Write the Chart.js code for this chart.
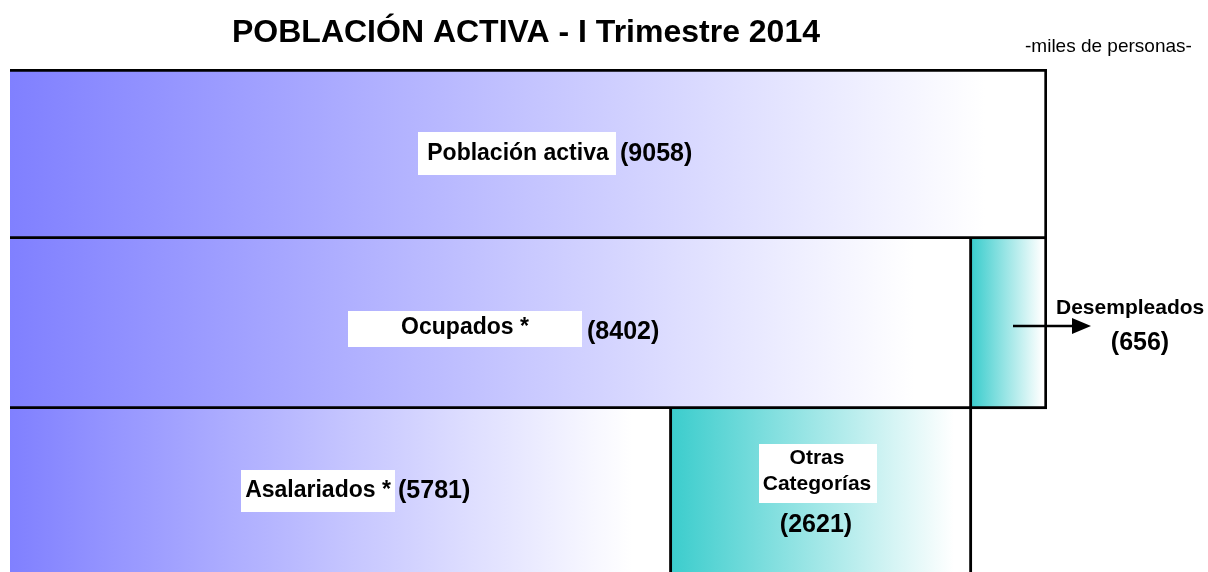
<!DOCTYPE html>
<html>
<head>
<meta charset="utf-8">
<script src="https://cdn.jsdelivr.net/npm/chart.js@4"></script>
<style>
  html, body { margin: 0; padding: 0; background: #fff; overflow: hidden; }
  #wrap { width: 1208px; height: 600px; }
</style>
</head>
<body>
<div id="wrap"><canvas id="chart" width="1208" height="600"></canvas></div>
<script>
// miles de personas, I trimestre 2014
const categories = ['Población activa', 'Ocupados *', 'Asalariados *'];
const mainValues = [9058, 8402, 5781];
const restLabels = ['', 'Desempleados', 'Otras Categorías'];
const restValues = [null, 656, 2621];
const total = 9058;

const FONT = '"Liberation Sans", Arial, sans-serif';
const BLUE = 'rgb(128,128,255)';
const TEAL = 'rgb(60,205,205)';

function fade(color) {
  return function (ctx) {
    const chart = ctx.chart;
    if (!chart.chartArea) return color;
    const xs = chart.scales.x;
    const i = ctx.dataIndex;
    const start = ctx.datasetIndex === 0 ? 0 : mainValues[i];
    const v = ctx.datasetIndex === 0 ? mainValues[i] : restValues[i];
    if (v == null) return color;
    const x0 = xs.getPixelForValue(start);
    const x1 = xs.getPixelForValue(start + v);
    const g = chart.ctx.createLinearGradient(x0, 0, x1, 0);
    g.addColorStop(0, color);
    g.addColorStop(0.94, '#ffffff');
    g.addColorStop(1, '#ffffff');
    return g;
  };
}

// no left edge; top edge only on the first row, the others share the bottom line
function borders(ctx) {
  return { top: ctx.dataIndex === 0 ? 3 : 0, right: 3, bottom: 3, left: 0 };
}

function label(c, text, x, y, font, box) {
  c.font = font;
  if (box) {
    c.fillStyle = '#fff';
    c.fillRect(box[0], box[1], box[2], box[3]);
  }
  c.fillStyle = '#000';
  c.fillText(text, x, y);
}

const notes = {
  id: 'notes',
  afterDraw(chart) {
    const c = chart.ctx;
    const m0 = chart.getDatasetMeta(0).data;
    c.save();
    c.textBaseline = 'middle';

    c.textAlign = 'center';
    label(c, 'POBLACIÓN ACTIVA - I Trimestre 2014', 526, 33, 'bold 32px ' + FONT);
    c.textAlign = 'left';
    label(c, '-miles de personas-', 1025, 47, '19px ' + FONT);

    // row 1
    let y = m0[0].y;
    c.textAlign = 'center';
    label(c, categories[0], 518, y, 'bold 23px ' + FONT, [418, y - 22, 198, 43]);
    c.textAlign = 'left';
    label(c, '(' + mainValues[0] + ')', 620, y, 'bold 25px ' + FONT);

    // row 2
    y = m0[1].y;
    c.textAlign = 'center';
    label(c, categories[1], 465, y + 4, 'bold 23px ' + FONT, [348, y - 13, 234, 36]);
    c.textAlign = 'left';
    label(c, '(' + mainValues[1] + ')', 587, y + 8, 'bold 25px ' + FONT);

    // row 3
    y = m0[2].y;
    c.textAlign = 'center';
    label(c, categories[2], 318, y - 3, 'bold 23px ' + FONT, [241, y - 24, 154, 42]);
    c.textAlign = 'left';
    label(c, '(' + mainValues[2] + ')', 398, y - 3, 'bold 25px ' + FONT);

    // otras categorias
    c.textAlign = 'center';
    c.fillStyle = '#fff';
    c.fillRect(759, y - 50, 118, 59);
    label(c, 'Otras', 817, y - 36, 'bold 21px ' + FONT);
    label(c, 'Categorías', 817, y - 10, 'bold 21px ' + FONT);
    label(c, '(' + restValues[2] + ')', 816, y + 31, 'bold 25px ' + FONT);

    // desempleados arrow
    const ya = m0[1].y + 2;
    c.strokeStyle = '#000';
    c.lineWidth = 2.5;
    c.beginPath();
    c.moveTo(1013, ya);
    c.lineTo(1075, ya);
    c.stroke();
    c.fillStyle = '#000';
    c.beginPath();
    c.moveTo(1091, ya);
    c.lineTo(1072, ya - 8);
    c.lineTo(1072, ya + 8);
    c.closePath();
    c.fill();
    c.textAlign = 'left';
    label(c, restLabels[1], 1056, ya - 18, 'bold 21px ' + FONT);
    c.textAlign = 'center';
    label(c, '(' + restValues[1] + ')', 1140, ya + 17, 'bold 25px ' + FONT);
    c.restore();
  }
};

new Chart(document.getElementById('chart'), {
  type: 'bar',
  data: {
    labels: categories,
    datasets: [
      {
        label: 'principal',
        data: mainValues,
        backgroundColor: fade(BLUE),
        borderColor: '#000',
        borderWidth: borders,
        borderSkipped: false
      },
      {
        label: 'resto',
        data: restValues,
        backgroundColor: fade(TEAL),
        borderColor: '#000',
        borderWidth: borders,
        borderSkipped: false
      }
    ]
  },
  options: {
    indexAxis: 'y',
    responsive: false,
    animation: false,
    events: [],
    layout: { padding: { left: 10, right: 161, top: 69, bottom: 21 } },
    datasets: { bar: { categoryPercentage: 1, barPercentage: 1 } },
    scales: {
      x: { display: false, stacked: true, min: 0, max: total },
      y: { display: false, stacked: true }
    },
    plugins: {
      legend: { display: false },
      tooltip: { enabled: false }
    }
  },
  plugins: [notes]
});
</script>
</body>
</html>
